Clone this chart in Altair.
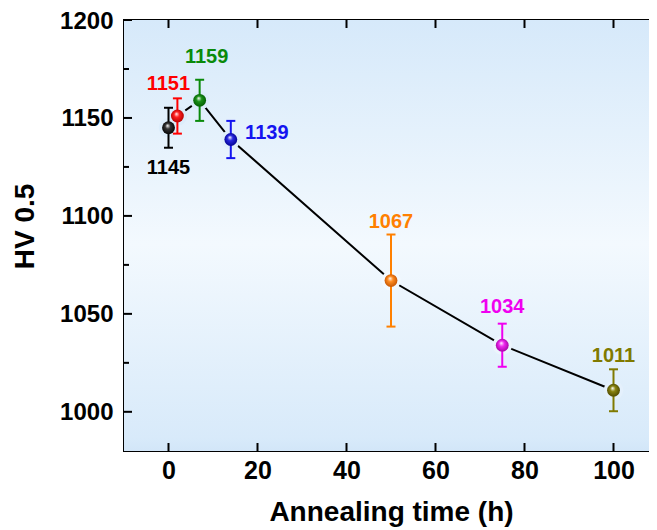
import altair as alt
import pandas as pd

# ---- data ----
times = [0, 2, 7, 14, 50, 75, 100]
hv = [1145, 1151, 1159, 1139, 1067, 1034, 1011]
err = [10.2, 9.0, 10.5, 9.5, 23.5, 11.0, 10.7]
names = ["p0", "p2", "p7", "p14", "p50", "p75", "p100"]
labels = ["1145", "1151", "1159", "1139", "1067", "1034", "1011"]
x_ticks = [0, 20, 40, 60, 80, 100]
y_major = [1000, 1050, 1100, 1150, 1200]
y_minor = [1025, 1075, 1125, 1175]

# ---- styles ----
line_colors = ["#000000", "#ff0000", "#0a8a0a", "#1414f0", "#ff8000", "#f000f0", "#807a00"]
dark_colors = ["#000000", "#b00000", "#005800", "#00008c", "#c05000", "#a000a0", "#4a4600"]
base_colors = ["#333333", "#ff2020", "#1a921a", "#2828e0", "#ff8c20", "#f028f0", "#8a8410"]
halo_colors = ["#dcedfb", "#dcedfb", "#dbecfb", "#e0effb", "#f3f9fe", "#ecf5fd", "#e4f0fc"]
label_dx = [0, -9, 7, 36, 0, 0, 0]
label_dy = [40, -32, -43, -7, -59, -38, -34]

FONT = "Liberation Sans"
W, H = 534, 431

df = pd.DataFrame({"t": times, "hv": hv, "err": err, "name": names, "label": labels})
df["lo"] = df["hv"] - df["err"]
df["hi"] = df["hv"] + df["err"]

xs = alt.Scale(domain=[-10, 110], nice=False, zero=False)
ys = alt.Scale(domain=[980, 1200], nice=False, zero=False)

x_axis = alt.Axis(values=x_ticks, ticks=False, domain=False, grid=False, format="d",
                  labelFont=FONT, labelFontWeight="bold", labelFontSize=25,
                  labelColor="black", labelPadding=7,
                  title="Annealing time (h)", titleFont=FONT, titleFontWeight="bold",
                  titleFontSize=28, titleColor="black",
                  titleBaseline="alphabetic", titleY=69)
y_axis = alt.Axis(values=y_major, ticks=False, domain=False, grid=False, format="d",
                  labelFont=FONT, labelFontWeight="bold", labelFontSize=24,
                  labelColor="black", labelPadding=11, labelOffset=1,
                  title="HV 0.5", titleFont=FONT, titleFontWeight="bold",
                  titleFontSize=28, titleColor="black",
                  titleX=-85, titleY=206)

bg = alt.LinearGradient(
    gradient="linear", x1=0, y1=0, x2=0, y2=1,
    stops=[
        alt.GradientStop(offset=0.0, color="#d6e9fa"),
        alt.GradientStop(offset=0.52, color="#f3f9fe"),
        alt.GradientStop(offset=0.97, color="#d8eafa"),
        alt.GradientStop(offset=1.0, color="#d2e6f8"),
    ],
)
background = alt.Chart(pd.DataFrame({"a": [0]})).mark_rect(color=bg).encode(
    x=alt.value(0), x2=alt.value(W), y=alt.value(0), y2=alt.value(H))

base = alt.Chart(df)
X = alt.X("t:Q", scale=xs)

line = base.mark_line(color="black", strokeWidth=2).encode(
    x=alt.X("t:Q", scale=xs, axis=x_axis),
    y=alt.Y("hv:Q", scale=ys, axis=y_axis),
)

halos, bars, spheres, texts = [], [], [], []
for i, n in enumerate(names):
    sub = base.transform_filter(alt.datum.name == n)
    halos.append(sub.mark_circle(size=380, opacity=1, color=halo_colors[i]).encode(
        x=X, y=alt.Y("hv:Q", scale=ys)))
    bars.append(sub.mark_rule(strokeWidth=2, color=line_colors[i]).encode(
        x=X, y=alt.Y("lo:Q", scale=ys), y2="hi:Q"))
    bars.append(sub.mark_tick(orient="horizontal", size=9, thickness=2,
                              color=line_colors[i], opacity=1).encode(
        x=X, y=alt.Y("lo:Q", scale=ys)))
    bars.append(sub.mark_tick(orient="horizontal", size=9, thickness=2,
                              color=line_colors[i], opacity=1).encode(
        x=X, y=alt.Y("hi:Q", scale=ys)))
    grad = alt.RadialGradient(
        gradient="radial",
        x1=0.42, y1=0.32, r1=0.0,
        x2=0.5, y2=0.5, r2=0.55,
        stops=[
            alt.GradientStop(offset=0.0, color="#ffffff"),
            alt.GradientStop(offset=0.38, color=base_colors[i]),
            alt.GradientStop(offset=1.0, color=dark_colors[i]),
        ],
    )
    spheres.append(sub.mark_circle(size=165, opacity=1, color=grad).encode(
        x=X, y=alt.Y("hv:Q", scale=ys)))
    texts.append(sub.mark_text(
        font=FONT, fontWeight="bold", fontSize=20, color=line_colors[i],
        dx=label_dx[i], dy=label_dy[i], align="center", baseline="middle"
    ).encode(x=X, y=alt.Y("hv:Q", scale=ys), text="label:N"))

# inward ticks on all four sides
xt = pd.DataFrame({"v": x_ticks})
ymj = pd.DataFrame({"v": y_major})
ymn = pd.DataFrame({"v": y_minor})

def xtick(ypos):
    return alt.Chart(xt).mark_tick(orient="vertical", size=8, thickness=2,
                                   color="black", opacity=1).encode(
        x=alt.X("v:Q", scale=xs), y=alt.value(ypos))

def ytick(data, xpos, length):
    return alt.Chart(data).mark_tick(orient="horizontal", size=length, thickness=2,
                                     color="black", opacity=1).encode(
        y=alt.Y("v:Q", scale=ys), x=alt.value(xpos))

ticks = [
    xtick(H - 4), xtick(4),
    ytick(ymj, 4, 8), ytick(ymj, W - 4, 8),
    ytick(ymn, 2.5, 5), ytick(ymn, W - 2.5, 5),
]

layers = [background, line] + halos + bars + spheres + texts + ticks

chart = alt.layer(*layers).properties(
    width=W, height=H,
    autosize=alt.AutoSizeParams(type="none"),
    padding={"left": 116, "top": 12, "right": -9, "bottom": 77},
    background="white",
).configure_view(stroke="black", strokeWidth=2)

chart.save("out.html", embed_options={"renderer": "svg", "actions": False})
